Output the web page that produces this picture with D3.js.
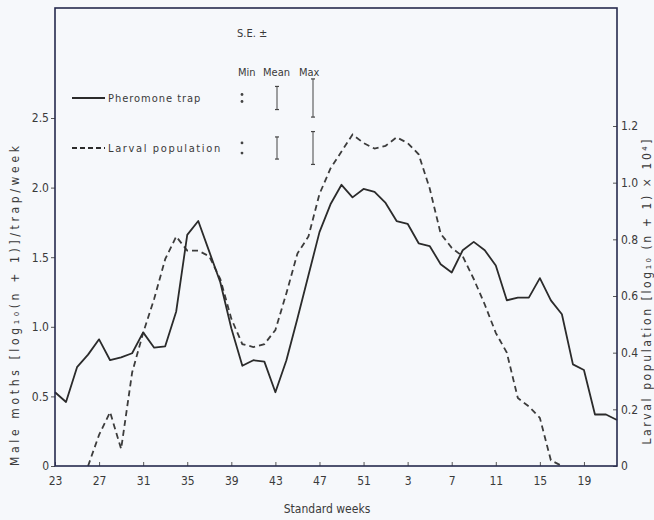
<!DOCTYPE html>
<html>
<head>
<meta charset="utf-8">
<script src="https://cdn.jsdelivr.net/npm/d3@7"></script>
<style>
  body { margin: 0; background: #f6f8fb; }
  svg { display: block; }
  text { font-family: "DejaVu Sans Condensed", "DejaVu Sans", sans-serif; fill: #3a3a3a; }
</style>
</head>
<body>
<div id="graph"></div>
<script>
// standard weeks, 23..52 then 1..22
var weeks = [23,24,25,26,27,28,29,30,31,32,33,34,35,36,37,38,39,40,41,42,43,44,45,46,47,48,49,50,51,52,
             1,2,3,4,5,6,7,8,9,10,11,12,13,14,15,16,17,18,19,20,21,22];
var weekTicks = [23,27,31,35,39,43,47,51,3,7,11,15,19];

// male moths, log10(n+1)/trap/week (left axis)
var trap = [0.53,0.46,0.71,0.80,0.91,0.76,0.78,0.81,0.96,0.85,0.86,1.11,1.66,1.76,1.54,1.32,0.99,0.72,0.76,0.75,
            0.53,0.76,1.06,1.37,1.68,1.88,2.02,1.93,1.99,1.97,1.89,1.76,1.74,1.60,1.58,1.45,1.39,1.55,1.61,1.55,
            1.44,1.19,1.21,1.21,1.35,1.19,1.09,0.73,0.69,0.37,0.37,0.33];

// larval population (right axis), null = not sampled
var larval = [null,null,null,0,0.11,0.19,0.06,0.33,0.47,0.59,0.73,0.81,0.76,0.76,0.74,0.66,0.52,0.43,0.42,0.43,
              0.48,0.61,0.75,0.81,0.96,1.05,1.11,1.17,1.14,1.12,1.13,1.16,1.14,1.10,0.98,0.82,0.77,0.74,0.66,0.57,
              0.47,0.40,0.24,0.21,0.17,0.02,0,null,null,null,null,null];

var leftTicks = [0,0.5,1.0,1.5,2.0,2.5];
var rightTicks = [0,0.2,0.4,0.6,0.8,1.0,1.2];

// S.E. (+/-) for legend: min, mean, max
var seTrap = [0.025,0.083,0.137];
var seLarval = [0.018,0.039,0.058];

var width = 654, height = 520;
var svg = d3.select("#graph").append("svg")
  .attr("width", width)
  .attr("height", height);

var xScale = d3.scaleLinear().domain([0, weeks.length - 1]).range([55, 617]);
var yLeft = d3.scaleLinear().domain([0, 2.5]).range([466, 118]);
var yRight = d3.scaleLinear().domain([0, 1.2]).range([466, 126]);
var frameTop = 8;

var ink = "#2b2b2b";
var frameColor = "#262a4e";

// lines
var lineTrap = d3.line()
  .x(function(d, i) { return xScale(i); })
  .y(function(d) { return yLeft(d); });

var lineLarval = d3.line()
  .defined(function(d) { return d !== null; })
  .x(function(d, i) { return xScale(i); })
  .y(function(d) { return yRight(d); });

svg.append("path")
  .datum(larval)
  .attr("d", lineLarval)
  .attr("fill", "none")
  .attr("stroke", "#3c3c3c")
  .attr("stroke-width", 1.8)
  .attr("stroke-dasharray", "6,4");

svg.append("path")
  .datum(trap)
  .attr("d", lineTrap)
  .attr("fill", "none")
  .attr("stroke", ink)
  .attr("stroke-width", 1.8)
  .attr("stroke-linejoin", "round");

// axes
var xAxis = d3.axisBottom(xScale)
  .tickValues(weekTicks.map(function(w) { return weeks.indexOf(w); }))
  .tickFormat(function(i) { return weeks[i]; })
  .tickSizeInner(-4).tickSizeOuter(0).tickPadding(10);

var gx = svg.append("g")
  .attr("transform", "translate(0,466)")
  .call(xAxis);

var gl = svg.append("g")
  .attr("transform", "translate(55,0)")
  .call(d3.axisLeft(yLeft).tickValues(leftTicks)
    .tickFormat(function(d) { return d === 0 ? "0" : d3.format(".1f")(d); })
    .tickSizeInner(4).tickSizeOuter(0).tickPadding(2));

var gr = svg.append("g")
  .attr("transform", "translate(617,0)")
  .call(d3.axisRight(yRight).tickValues(rightTicks)
    .tickFormat(function(d) { return d === 0 ? "0" : d3.format(".1f")(d); })
    .tickSizeInner(-4).tickSizeOuter(0).tickPadding(4));

[gx, gl, gr].forEach(function(g) {
  g.select(".domain").remove();
  g.selectAll(".tick line").attr("stroke", "#555");
  g.selectAll(".tick text").style("font-size", "12px").attr("fill", "#3a3a3a");
});

// frame
svg.append("rect")
  .attr("x", 55).attr("y", frameTop)
  .attr("width", 617 - 55).attr("height", 466 - frameTop)
  .attr("fill", "none")
  .attr("stroke", frameColor)
  .attr("stroke-width", 1.6);

// axis titles
svg.append("text")
  .attr("transform", "translate(327,513)")
  .attr("text-anchor", "middle")
  .style("font-size", "12px")
  .text("Standard weeks");

svg.append("text")
  .attr("transform", "translate(19,306) rotate(-90)")
  .attr("text-anchor", "middle")
  .attr("textLength", 320)
  .attr("lengthAdjust", "spacing")
  .style("font-size", "12px")
  .text("Male moths [log\u2081\u2080(n + 1)]/trap/week");

svg.append("text")
  .attr("transform", "translate(651,292) rotate(-90)")
  .attr("text-anchor", "middle")
  .attr("textLength", 305)
  .attr("lengthAdjust", "spacing")
  .style("font-size", "12px")
  .text("Larval population [log\u2081\u2080 (n + 1) \u00d7 10\u2074]");

// legend
var lg = svg.append("g");
lg.append("text").attr("x", 237).attr("y", 37).style("font-size", "11px").text("S.E. \u00b1");
[["Min", 238], ["Mean", 263], ["Max", 299]].forEach(function(h) {
  lg.append("text").attr("x", h[1]).attr("y", 76).style("font-size", "11px").text(h[0]);
});

var rows = [
  { label: "Pheromone trap", y: 98, dash: null, se: seTrap, scale: yLeft },
  { label: "Larval population", y: 148, dash: "5,3", se: seLarval, scale: yRight }
];
var seX = [242, 277, 313];

rows.forEach(function(r) {
  lg.append("line")
    .attr("x1", 72).attr("x2", 105).attr("y1", r.y).attr("y2", r.y)
    .attr("stroke", ink).attr("stroke-width", 1.8)
    .attr("stroke-dasharray", r.dash);
  lg.append("text").attr("x", 108).attr("y", r.y + 4)
    .attr("textLength", r.label.length * 6.6)
    .attr("lengthAdjust", "spacing")
    .style("font-size", "11px").text(r.label);
  r.se.forEach(function(s, k) {
    var h = r.scale(0) - r.scale(s);
    var y1 = r.y - h, y2 = r.y + h;
    if (k > 0) {
      lg.append("line")
        .attr("x1", seX[k]).attr("x2", seX[k]).attr("y1", y1).attr("y2", y2)
        .attr("stroke", "#444").attr("stroke-width", 1);
    }
    [y1, y2].forEach(function(yy) {
      if (k === 0) {
        lg.append("circle").attr("cx", seX[k]).attr("cy", yy).attr("r", 1.4).attr("fill", "#444");
      } else {
        lg.append("line")
          .attr("x1", seX[k] - 2).attr("x2", seX[k] + 2).attr("y1", yy).attr("y2", yy)
          .attr("stroke", "#444").attr("stroke-width", 1.2);
      }
    });
  });
});
</script>
</body>
</html>
